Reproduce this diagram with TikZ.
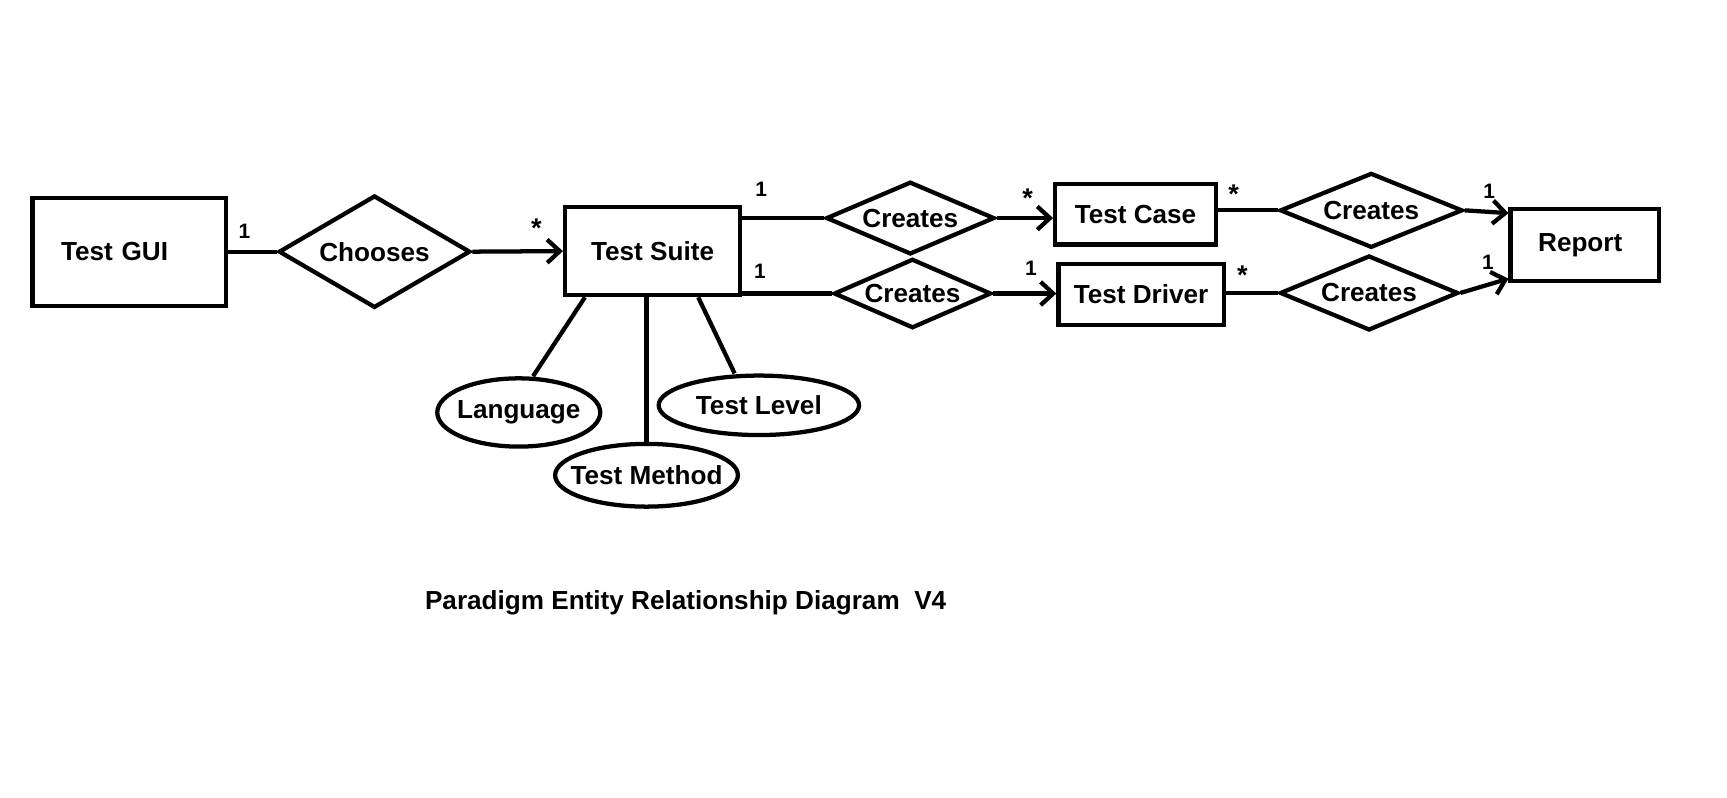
\documentclass[tikz,border=0pt]{standalone}
\usepackage{fontspec}
\setmainfont{Liberation Sans}
\usetikzlibrary{shapes.geometric}
\usetikzlibrary{arrows.meta}

\begin{document}
\begin{tikzpicture}[x=0.02cm,y=-0.02cm,
	every node/.style={font=\bfseries\fontsize{13.5}{16}\selectfont},
	entity/.style={draw,rectangle,line width=2.2pt},
	relation/.style={draw,diamond,line width=2.2pt,inner sep=0pt},
	attrib/.style={draw,ellipse,line width=2.2pt,inner sep=0pt},
	card/.style={font=\bfseries\fontsize{10.8}{12}\selectfont,anchor=base,inner sep=0pt},
	star/.style={card,font=\bfseries\fontsize{14}{16}\selectfont},
	conn/.style={line width=2.2pt},
	arr/.style={conn,-{Straight Barb[length=6.5pt,width=12pt]}}]
		\useasboundingbox (0,0) rectangle (1568,724.5);

		\node[entity,minimum height=1.96cm,text width=2.48cm,align=left,inner xsep=0.52cm] (gui) at (117.5,228.5) {Test GUI};
		\node[relation,minimum width=3.48cm,minimum height=2.04cm,label=center:Chooses] (chooses) at (340,228.5) {};
		\node[entity,minimum width=3.18cm,minimum height=1.6cm] (suite) at (592.5,228) {Test Suite};
		\node[relation,minimum width=3.06cm,minimum height=1.32cm,label=center:Creates] (cr1) at (826.5,198) {};
		\node[relation,minimum width=2.86cm,minimum height=1.26cm,label=center:Creates] (cr2) at (828.5,266.5) {};
		\node[entity,minimum width=2.92cm,minimum height=1.1cm] (case) at (1031,194.5) {Test Case};
		\node[entity,minimum width=3cm,minimum height=1.1cm] (driver) at (1036,267.5) {Test Driver};
		\node[relation,minimum width=3.32cm,minimum height=1.36cm,label=center:Creates] (cr3) at (1245,191) {};
		\node[relation,minimum width=3.24cm,minimum height=1.36cm,label=center:Creates] (cr4) at (1243,266) {};
		\node[entity,minimum height=1.3cm,text width=1.7cm,align=left,inner xsep=0.5cm] (report) at (1439,222.5) {Report};

		\node[attrib,minimum width=2.96cm,minimum height=1.24cm,label=center:Language] (lang) at (471,374.5) {};
		\node[attrib,minimum width=3.32cm,minimum height=1.14cm,label=center:Test Method] (method) at (587,431.5) {};
		\node[attrib,minimum width=3.64cm,minimum height=1.08cm,label=center:Test Level] (level) at (689,368) {};

		\draw[conn] (gui.east) -- (chooses.west);
		\draw[arr] (chooses.east) -- (suite.west);
		\draw[conn] (suite.east |- cr1.west) -- (cr1.west);
		\draw[arr] (cr1.east) -- (cr1.east -| case.west);
		\draw[conn] (suite.east |- cr2.west) -- (cr2.west);
		\draw[arr] (cr2.east) -- (cr2.east -| driver.west);
		\draw[conn] (case.east |- cr3.west) -- (cr3.west);
		\draw[conn] (driver.east |- cr4.west) -- (cr4.west);
		\draw[arr] (cr3.east) -- ([yshift=0.58cm]report.west);
		\draw[arr] (cr4.east) -- ([yshift=-0.61cm]report.west);

		\draw[conn] ([xshift=0.4cm]suite.south west) -- ([xshift=0.26cm]lang.north);
		\draw[conn] (method.north |- suite.south) -- (method.north);
		\draw[conn] ([xshift=-0.8cm]suite.south east) -- ([xshift=-0.44cm]level.north);

		\foreach \n/\x/\y in {1/222/216.8, 3/691/178.8, 5/690/252.8, 6/936/250.2, 9/1352/180.2, 10/1351/244.7}
		{
			\node[card] (card\n) at (\x,\y) {1};
		}
		\foreach \n/\x/\y in {2/487/215.4, 4/933/188.4, 7/1120/184.4, 8/1128/258.4}
		{
			\node[star] (card\n) at (\x,\y) {*};
		}

		\node[anchor=base] (title) at (622.5,553) {Paradigm Entity Relationship Diagram\ \ V4};
	\end{tikzpicture}
\end{document}
